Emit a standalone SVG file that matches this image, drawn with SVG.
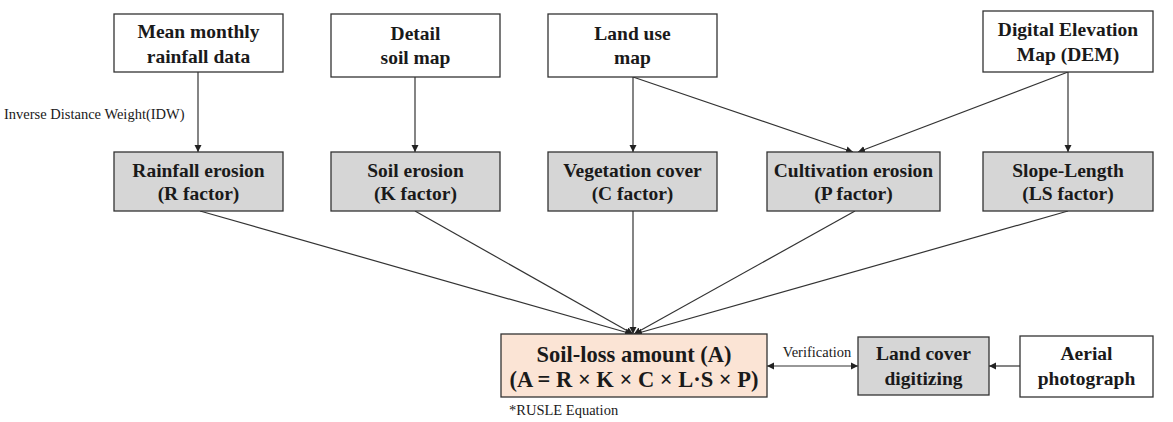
<svg xmlns="http://www.w3.org/2000/svg" width="1173" height="422" viewBox="0 0 1173 422" font-family="'Liberation Serif', 'Times New Roman', 'DejaVu Serif', serif">
<style>
.box{fill:#fff;stroke:#333;stroke-width:1.3}
.gray{fill:#d6d6d6;stroke:#333;stroke-width:1.3}
.peach{fill:#fbe4d5;stroke:#333;stroke-width:1.3}
text{font-family:'Liberation Serif','Times New Roman','DejaVu Serif',serif}
.t{font-weight:bold;font-size:19.5px;fill:#1a1a1a;text-anchor:middle}
.big{font-size:22.5px}
.s{font-size:14.5px;fill:#1a1a1a}
.c line{stroke:#333;stroke-width:1.2}
</style>
<defs>
<marker id="ah" markerWidth="8" markerHeight="8" refX="7" refY="4" orient="auto" markerUnits="userSpaceOnUse">
<path d="M0,0.5 L7,4 L0,7.5 Z" fill="#222"/>
</marker>
<marker id="ahs" markerWidth="8" markerHeight="8" refX="1" refY="4" orient="auto" markerUnits="userSpaceOnUse">
<path d="M8,0.5 L1,4 L8,7.5 Z" fill="#222"/>
</marker>
</defs>
<g class="c">
<line x1="198" y1="72" x2="198" y2="152" marker-end="url(#ah)"/>
<line x1="415" y1="77" x2="415" y2="152" marker-end="url(#ah)"/>
<line x1="633" y1="77" x2="633" y2="152" marker-end="url(#ah)"/>
<line x1="633" y1="77" x2="853" y2="152" marker-end="url(#ah)"/>
<line x1="1068" y1="72" x2="858" y2="152" marker-end="url(#ah)"/>
<line x1="1068" y1="72" x2="1068" y2="152" marker-end="url(#ah)"/>
<line x1="200" y1="211" x2="632" y2="334" marker-end="url(#ah)"/>
<line x1="415" y1="211" x2="633" y2="334" marker-end="url(#ah)"/>
<line x1="633" y1="211" x2="633" y2="334" marker-end="url(#ah)"/>
<line x1="855" y1="211" x2="634" y2="334" marker-end="url(#ah)"/>
<line x1="1068" y1="211" x2="635" y2="334" marker-end="url(#ah)"/>
<line x1="767" y1="366" x2="858" y2="366" marker-start="url(#ahs)" marker-end="url(#ah)"/>
<line x1="1020" y1="366" x2="989" y2="366" marker-end="url(#ah)"/>
</g>
<text class="s" x="4" y="119">Inverse Distance Weight(IDW)</text>
<text class="s" x="817" y="357" text-anchor="middle">Verification</text>
<text class="s" x="509" y="415">*RUSLE Equation</text>
<g id="n-rain-data"><rect class="box" x="114" y="14" width="169" height="58"/><text class="t" x="198.5" y="38">Mean monthly</text><text class="t" x="198.5" y="63">rainfall data</text></g>
<g id="n-soil-map"><rect class="box" x="331" y="14" width="169" height="63"/><text class="t" x="415.5" y="40">Detail</text><text class="t" x="415.5" y="64">soil map</text></g>
<g id="n-landuse"><rect class="box" x="548" y="14" width="169" height="63"/><text class="t" x="632.5" y="40">Land use</text><text class="t" x="632.5" y="64">map</text></g>
<g id="n-dem"><rect class="box" x="983" y="11" width="170" height="61"/><text class="t" x="1068" y="36">Digital Elevation</text><text class="t" x="1068" y="61">Map (DEM)</text></g>
<g id="n-r"><rect class="gray" x="114" y="152" width="169" height="59"/><text class="t" x="198.5" y="177">Rainfall erosion</text><text class="t" x="198.5" y="200">(R factor)</text></g>
<g id="n-k"><rect class="gray" x="331" y="152" width="169" height="59"/><text class="t" x="415.5" y="177">Soil erosion</text><text class="t" x="415.5" y="200">(K factor)</text></g>
<g id="n-c"><rect class="gray" x="548" y="152" width="169" height="59"/><text class="t" x="632.5" y="177">Vegetation cover</text><text class="t" x="632.5" y="200">(C factor)</text></g>
<g id="n-p"><rect class="gray" x="767" y="152" width="173" height="59"/><text class="t" x="853.5" y="177">Cultivation erosion</text><text class="t" x="853.5" y="200">(P factor)</text></g>
<g id="n-ls"><rect class="gray" x="983" y="152" width="170" height="59"/><text class="t" x="1068" y="177">Slope-Length</text><text class="t" x="1068" y="200">(LS factor)</text></g>
<g id="n-a"><rect class="peach" x="501" y="334" width="266" height="63"/><text class="t big" x="634" y="362">Soil-loss amount (A)</text><text class="t big" x="634" y="387">(A = R × K × C × L·S × P)</text></g>
<g id="n-lc"><rect class="gray" x="858" y="337" width="131" height="58"/><text class="t" x="923.5" y="360">Land cover</text><text class="t" x="923.5" y="385">digitizing</text></g>
<g id="n-aerial"><rect class="box" x="1020" y="336" width="133" height="61"/><text class="t" x="1086.5" y="360">Aerial</text><text class="t" x="1086.5" y="385">photograph</text></g>
</svg>
